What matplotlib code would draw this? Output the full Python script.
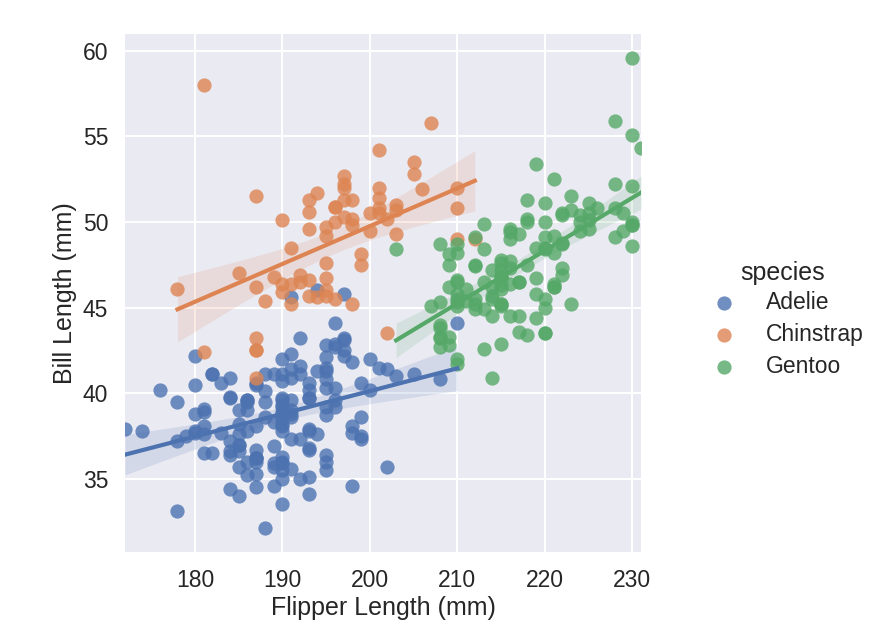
import numpy as np
import matplotlib.pyplot as plt

plt.rcParams['font.family'] = ['Liberation Sans', 'DejaVu Sans']

species = ['Adelie', 'Chinstrap', 'Gentoo']
colors = ['#4C72B0', '#DD8452', '#55A868']

adelie_flipper = [181, 186, 195, 193, 190, 181, 195, 193, 190, 186, 180, 182, 191, 198, 185, 195, 197, 184, 194,
                  174, 180, 189, 185, 180, 187, 183, 187, 172, 180,
                  178, 178, 188, 184, 195, 196, 190, 180, 181, 184, 182, 195, 186, 196, 185, 190, 182, 179, 190, 191,
                  186, 188, 190, 200, 187, 191, 186, 193, 181, 194, 185, 195, 185, 192, 184, 192, 195, 188,
                  190, 198, 190, 190, 196, 197, 190, 195, 191, 184, 187, 195, 189, 196, 187, 193,
                  191, 194, 190, 189, 189, 190, 202, 205, 185, 186, 187, 208, 190, 196, 178, 192,
                  192, 203, 183, 190, 193, 184, 199, 190, 181, 197, 198, 191, 193, 197, 191, 196,
                  188, 199, 189, 189, 187, 198, 176, 202, 186, 199, 191, 195, 191, 210, 190, 197,
                  193, 199, 187, 190, 191, 200, 185, 193, 193, 187, 188, 190, 192, 185, 190, 184, 195, 193, 187, 201]
adelie_bill = [39.1, 39.5, 40.3, 36.7, 39.3, 38.9, 39.2, 34.1, 42.0, 37.8, 37.8, 41.1, 38.6, 34.6, 36.6, 38.7, 42.5, 34.4, 46.0,
               37.8, 37.7, 35.9, 38.2, 38.8, 35.3, 40.6, 40.5, 37.9, 40.5,
               39.5, 37.2, 39.5, 40.9, 36.4, 39.2, 38.8, 42.2, 37.6, 39.8, 36.5, 40.8, 36.0, 44.1, 37.0, 39.6, 41.1, 37.5, 36.0, 42.3,
               39.6, 40.1, 35.0, 42.0, 34.5, 41.4, 39.0, 40.6, 36.5, 37.6, 35.7, 41.3, 37.6, 41.1, 36.4, 41.6, 35.5, 41.1,
               35.9, 41.8, 33.5, 39.7, 39.6, 45.8, 35.5, 42.8, 40.9, 37.2, 36.2, 42.1, 34.6, 42.9, 36.7, 35.1,
               37.3, 41.3, 36.3, 36.9, 38.3, 38.9, 35.7, 41.1, 34.0, 39.6, 36.2, 40.8, 38.1, 40.3, 33.1, 43.2,
               35.0, 41.0, 37.7, 37.8, 37.9, 39.7, 38.6, 38.2, 38.1, 43.2, 38.1, 45.6, 39.7, 42.2, 39.6, 42.7,
               38.6, 37.3, 35.7, 41.1, 36.2, 37.7, 40.2, 41.4, 35.2, 40.6, 38.8, 41.5, 39.0, 44.1, 38.5, 43.1,
               36.8, 37.5, 38.1, 41.1, 35.6, 40.2, 37.0, 39.7, 40.2, 40.6, 32.1, 40.7, 37.3, 39.0, 39.2, 36.6, 36.0, 37.8, 36.0, 41.5]

chinstrap_flipper = [192, 196, 193, 188, 197, 198, 178, 197, 195, 198, 193, 194, 185, 201, 190, 201, 197, 181, 190, 195,
                     181, 191, 187, 193, 195, 197,
                     200, 200, 191, 205, 187, 201, 187, 203, 195, 199, 195, 210, 192, 205, 210, 187, 196, 196,
                     196, 201, 190, 212, 187, 198, 199, 201, 193, 203, 187, 197, 191, 203, 202, 194, 206, 189, 195, 207,
                     202, 193, 210, 198]
chinstrap_bill = [46.5, 50.0, 51.3, 45.4, 52.7, 45.2, 46.1, 51.3, 46.0, 51.3, 46.6, 51.7, 47.0, 52.0, 45.9, 50.5, 50.3, 58.0, 46.4, 49.2,
                  42.4, 48.5, 43.2, 50.6, 46.7, 52.0,
                  50.5, 49.5, 46.4, 52.8, 40.9, 54.2, 42.5, 51.0, 49.7, 47.5, 47.6, 52.0, 46.9, 53.5, 49.0, 46.2, 50.9, 45.5,
                  50.9, 50.8, 50.1, 49.0, 51.5, 49.8, 48.1, 51.4, 45.7, 50.7, 42.5, 52.2, 45.2, 49.3, 50.2, 45.6, 51.9, 46.8, 45.7, 55.8,
                  43.5, 49.6, 50.8, 50.2]

gentoo_flipper = [211, 230, 210, 218, 215, 210, 211, 219, 209, 215, 214, 216, 214, 213, 210, 217, 210, 221, 209, 222,
                  218, 215, 213, 215, 215, 215, 216, 215, 210, 220, 222, 209, 207, 230,
                  220, 220, 213, 219, 208, 208, 208, 225, 210, 216, 222, 217, 210, 225, 213, 215, 210, 220, 210, 225,
                  217, 220, 208, 220, 208, 224, 208, 221, 214, 231, 219, 230, 214, 229, 220, 223, 216, 221, 221, 217,
                  216, 230, 209, 220, 215, 223,
                  212, 221, 212, 224, 212, 228, 218, 218, 212, 230, 218, 228, 212, 224, 214, 226, 216, 222, 203, 225,
                  219, 228, 215, 228, 216, 215, 210, 219, 208, 209, 229, 230, 220, 223, 221, 230, 217, 222, 214, 215,
                  222, 212, 213]
gentoo_bill = [46.1, 50.0, 48.7, 50.0, 47.6, 46.5, 45.4, 46.7, 43.3, 46.8, 40.9, 49.0, 45.5, 48.4, 45.8, 49.3, 42.0, 49.2, 46.2, 48.7,
               50.2, 45.1, 46.5, 46.3, 42.9, 46.1, 44.5, 47.8, 48.2, 50.0, 47.3, 42.8, 45.1, 59.6,
               49.1, 48.4, 42.6, 44.4, 44.0, 48.7, 42.7, 49.6, 45.3, 49.6, 50.5, 43.6, 45.5, 50.5, 44.9, 45.2, 46.6, 48.5, 45.1, 50.1,
               46.5, 45.0, 43.8, 45.5, 43.2, 50.4, 45.3, 46.2, 45.7, 54.3, 45.8, 49.8, 46.2, 49.5, 43.5, 50.7, 47.7, 46.4, 48.2, 46.5,
               46.4, 48.6, 47.5, 51.1, 45.2, 45.2,
               49.1, 52.5, 47.4, 50.0, 44.9, 50.8, 43.4, 51.3, 47.5, 52.1, 47.5, 52.2, 45.5, 49.5, 44.5, 50.8, 49.4, 46.9, 48.4, 51.1,
               48.5, 55.9, 47.2, 49.1, 47.3, 46.8, 41.7, 53.4, 43.3, 48.1, 50.5, 49.8, 43.5, 51.5, 46.2, 55.1, 44.5, 48.8, 47.2, 46.8,
               50.4, 45.2, 49.9]

flippers = [adelie_flipper, chinstrap_flipper, gentoo_flipper]
bills = [adelie_bill, chinstrap_bill, gentoo_bill]


def fit_band(x, y, grid):
    # linear fit with 95% confidence band for the mean
    x = np.asarray(x, float)
    y = np.asarray(y, float)
    b, a = np.polyfit(x, y, 1)
    yhat = a + b * grid
    n = len(x)
    resid = y - (a + b * x)
    s = np.sqrt(np.sum(resid ** 2) / (n - 2))
    sxx = np.sum((x - x.mean()) ** 2)
    se = s * np.sqrt(1 / n + (grid - x.mean()) ** 2 / sxx)
    return yhat, yhat - 1.96 * se, yhat + 1.96 * se


fig = plt.figure(figsize=(8.84, 6.35), dpi=100)
ax = fig.add_axes([0.1414, 0.1307, 0.5837, 0.8157])
ax.set_facecolor('#EAEAF2')
for sp in ax.spines.values():
    sp.set_visible(False)
ax.grid(True, color='white', linewidth=1.4)
ax.set_axisbelow(True)

handles = []
for name, fx, by, c in zip(species, flippers, bills, colors):
    h = ax.scatter(fx, by, s=105, color=c, alpha=0.8, linewidths=0, label=name)
    handles.append(h)
    grid = np.linspace(min(fx), max(fx), 100)
    yhat, lo, hi = fit_band(fx, by, grid)
    ax.plot(grid, yhat, color=c, linewidth=3)
    ax.fill_between(grid, lo, hi, color=c, alpha=0.15, linewidth=0)

ax.set_xlim(172, 231)
ax.set_ylim(30.725, 60.975)
ax.set_xticks([180, 190, 200, 210, 220, 230])
ax.set_yticks([35, 40, 45, 50, 55, 60])
ax.tick_params(length=0, pad=12, labelsize=16.5, labelcolor='#262626')
ax.set_xlabel('Flipper Length (mm)', fontsize=18, color='#262626', labelpad=3)
ax.set_ylabel('Bill Length (mm)', fontsize=18, color='#262626', labelpad=4)

leg = fig.legend(handles, species, title='species', loc='center left',
                 bbox_to_anchor=(0.77, 0.497), frameon=False, fontsize=16.5,
                 title_fontsize=18, handletextpad=0.8, labelspacing=0.4,
                 scatterpoints=1, markerscale=1.0)
leg._legend_box.sep = 4
for t in leg.get_texts():
    t.set_color('#262626')
leg.get_title().set_color('#262626')

fig.savefig('out.png', dpi=100)
